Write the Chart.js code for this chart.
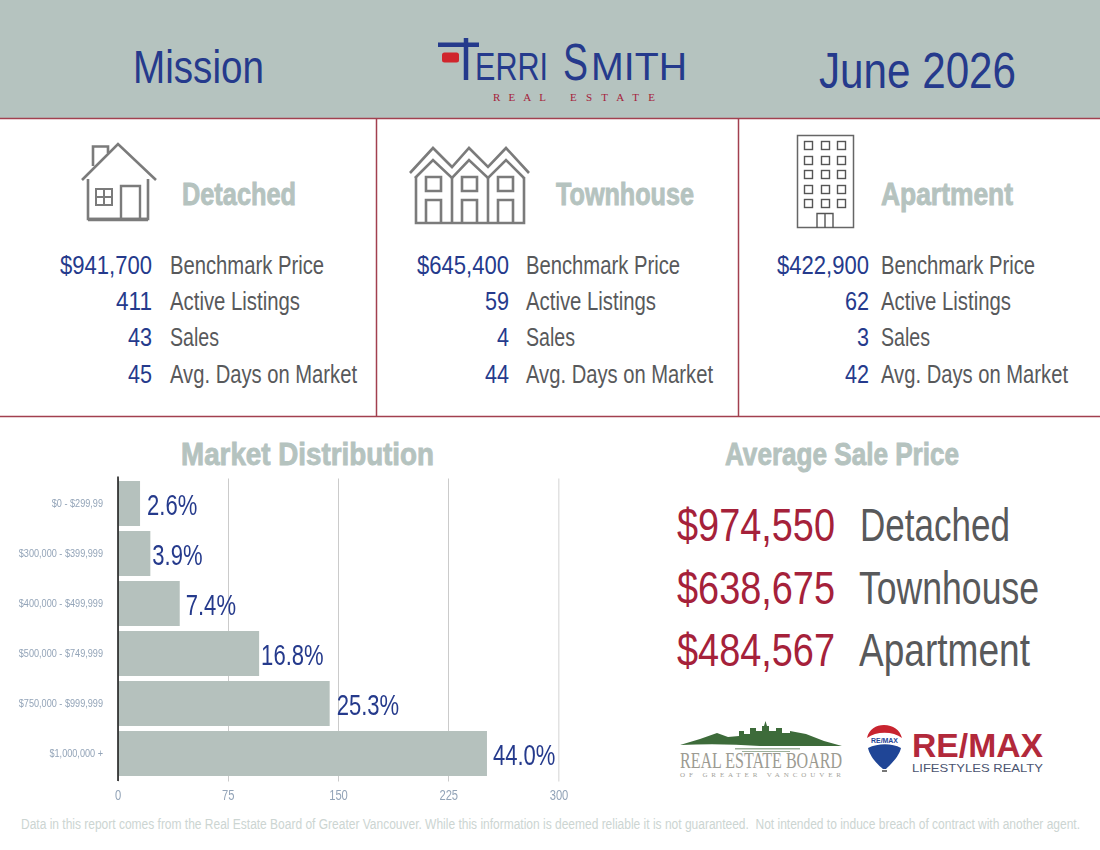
<!DOCTYPE html>
<html>
<head>
<meta charset="utf-8">
<title>Mission June 2026</title>
<script src="https://cdn.jsdelivr.net/npm/chart.js@4"></script>
<style>
  html, body { margin: 0; padding: 0; background: #fff; }
  #page { position: relative; width: 1100px; height: 850px; overflow: hidden; }
  #art { position: absolute; left: 0; top: 0; }
  #art text { white-space: pre; }
  #chartBox { position: absolute; left: 0; top: 430px; width: 614px; height: 385px; }
</style>
</head>
<body>
<div id="page">
  <svg id="art" width="1100" height="850" xmlns="http://www.w3.org/2000/svg"></svg>
  <div id="chartBox"><canvas id="myChart"></canvas></div>
</div>
<script>
var city = "Mission";
var period = "June 2026";
var chartTitle = "Market Distribution";

var priceBands = ["$0 - $299,99", "$300,000 - $399,999", "$400,000 - $499,999", "$500,000 - $749,999", "$750,000 - $999,999", "$1,000,000 +"];
var bandSales = [15, 22, 42, 96, 144, 251];
var bandShare = ["2.6%", "3.9%", "7.4%", "16.8%", "25.3%", "44.0%"];
var salesTicks = [0, 75, 150, 225, 300];

var propertyTypes = ["Detached", "Townhouse", "Apartment"];
var benchmarkPrices = ["$941,700", "$645,400", "$422,900"];
var activeListings = ["411", "59", "62"];
var sales = ["43", "4", "3"];
var daysOnMarket = ["45", "44", "42"];
var statLabels = ["Benchmark Price", "Active Listings", "Sales", "Avg. Days on Market"];
var averagePrices = ["$974,550", "$638,675", "$484,567"];

var footnote = "Data in this report comes from the Real Estate Board of Greater Vancouver. While this information is deemed reliable it is not guaranteed.  Not intended to induce breach of contract with another agent.";

var SANS = "'Liberation Sans', sans-serif";
var SERIF = "'Liberation Serif', serif";
var BLUE = "#253a8c", RED = "#a5213a", SAGE = "#b5c3bf", GREY = "#58595b", ICON = "#7b7b7b", RULE = "#a2404f";

var art = document.getElementById("art");
var NS = "http://www.w3.org/2000/svg";

function el(name, attrs, content) {
  var node = document.createElementNS(NS, name);
  for (var k in attrs) node.setAttribute(k, attrs[k]);
  if (content !== undefined) node.textContent = content;
  art.appendChild(node);
  return node;
}

// x is the anchor, y the baseline; len squeezes the glyphs to the reference width
function text(str, x, y, size, color, len, extra) {
  var attrs = { x: x, y: y, "font-size": size, fill: color, "font-family": SANS, textLength: len, lengthAdjust: "spacingAndGlyphs" };
  for (var k in extra) attrs[k] = extra[k];
  return el("text", attrs, str);
}

// the condensed bold headings of the reference, fattened with a stroke
function heading(str, x, y, len) {
  return text(str, x, y, 31, SAGE, len, { "font-weight": "bold", stroke: SAGE, "stroke-width": 0.9 });
}

function line(d, width, color) {
  el("path", { d: d, fill: "none", stroke: color || ICON, "stroke-width": width || 2 });
}

// header band and rules
el("rect", { x: 0, y: 0, width: 1100, height: 118, fill: SAGE });
line("M0 118.5H1100", 1.5, RULE);
line("M0 416.5H1100", 1.5, RULE);
line("M376.5 119V416", 1.5, RULE);
line("M738.5 119V416", 1.5, RULE);

text(city, 133, 83, 46, BLUE, 131);
text(period, 819, 88, 50, BLUE, 197);

// Terri Smith logo
el("rect", { x: 442, y: 52.5, width: 17, height: 10, rx: 2.5, fill: "#d0262d" });
line("M438 44.8H479", 4.5, BLUE);
line("M466 38V80", 4.5, BLUE);
text("ERRI", 475, 80, 39, BLUE, 73);
text("S", 563, 80, 52, BLUE, 25);
text("MITH", 591, 80, 39, BLUE, 96);
text("REAL", 493, 101, 11, RED, 53, { "font-family": SERIF, lengthAdjust: "spacing" });
text("ESTATE", 570, 101, 11, RED, 85, { "font-family": SERIF, lengthAdjust: "spacing" });

// house icon
line("M82 180L118 144L156 180", 2.6);
line("M93 166V146.5H108V153", 2.6);
line("M88 179V219H148V179", 2.6);
line("M88 219.5H148", 3.4);
line("M96 189H112V205H96ZM104 189V205M96 197H112", 2);
line("M121 219V186H140V219", 2.4);

// townhouse icon
line("M410 173L433 148L452 167L469 148L488 167L506 148L529 173", 2.6);
line("M415 178L433 160L452 178L469 160L488 178L506 160L524 178", 2.6);
line("M416 177V223H524V177M452 178V223M488 178V223", 2.6);
[426, 462, 498].forEach(function (wx) {
  line("M" + wx + " 177h15v14h-15Z", 2.6);
  line("M" + wx + " 223V200h15V223", 2.6);
});

// apartment icon
el("rect", { x: 797.5, y: 135.5, width: 56, height: 92, fill: "none", stroke: "#666", "stroke-width": 1.5 });
[804, 821, 837].forEach(function (wx) {
  [141, 156, 170, 185, 199].forEach(function (wy) {
    el("rect", { x: wx + 0.5, y: wy + 0.5, width: 8, height: 8, fill: "none", stroke: "#555", "stroke-width": 1.4 });
  });
});
line("M817 228V213.5H833V228M825 213.5V228", 1.4, "#555");

// property columns
var headingX = [182, 556, 881], headingLen = [114, 138, 132];
var numberX = [152, 509, 869], labelX = [170, 526, 881];
var rowY = [274, 310, 346, 383];
var labelLen = [154, 130, 49, 187];
propertyTypes.forEach(function (name, i) {
  heading(name, headingX[i], 205, headingLen[i]);
  [benchmarkPrices, activeListings, sales, daysOnMarket].forEach(function (values, r) {
    // 12px per digit, a little less for the "$" and ","
    var len = values[i].length > 3 ? 92 : values[i].length * 12;
    text(values[i], numberX[i], rowY[r], 26, BLUE, len, { "text-anchor": "end" });
    text(statLabels[r], labelX[i], rowY[r], 26, GREY, labelLen[r]);
  });
});

// average sale price
var priceY = [541, 604, 666], priceLabelX = [860, 859, 859], priceLabelLen = [150, 180, 171];
heading("Average Sale Price", 725, 465, 234);
heading(chartTitle, 181, 465, 253);
propertyTypes.forEach(function (name, i) {
  text(averagePrices[i], 677, priceY[i], 46, RED, 158);
  text(name, priceLabelX[i], priceY[i], 46, GREY, priceLabelLen[i]);
});

// Real Estate Board logo
el("path", { d: "M680 745L700 739L717 733L728 737L739 736V731H744V734H750V728H756V731H762V726H764L765.5 721L767 726H769V731H776V728H782V733H790V731L806 734L824 741L842 746H760Q720 743 680 745Z", fill: "#3d6b3a" });
el("path", { d: "M735 748H800V749.5H735ZM742 751H790V752H742Z", fill: "#9db09a" });
text("REAL ESTATE BOARD", 680, 768, 23, "#9c9b92", 162, { "font-family": SERIF });
text("OF GREATER VANCOUVER", 680, 777, 7, "#a3a299", 161, { "font-family": SERIF, lengthAdjust: "spacing" });

// RE/MAX logo
el("path", { d: "M867 738C869 729 876 725 884 725C893 725 900 730 902 738C893 731 876 731 867 738Z", fill: "#c8242f" });
el("path", { d: "M868 748C878 743 892 743 901 748C899 757 890 765 886 769H883C878 765 870 757 868 748Z", fill: "#1f4596" });
el("rect", { x: 882, y: 770, width: 5, height: 2, fill: "#777" });
text("RE/MAX", 871, 743, 7.5, "#1f4596", 27, { "font-weight": "bold" });
text("RE/MAX", 912, 757, 34, "#b2293b", 131, { "font-weight": "bold" });
text("LIFESTYLES REALTY", 912, 772, 11.5, "#4b5470", 131);

text(footnote, 21, 829, 14, "#ccd5d2", 1059);

// no condensed face is installed, so the canvas texts are squeezed by hand
function squeezedText(ctx, str, x, y, factor) {
  ctx.save();
  ctx.translate(x, y);
  ctx.scale(factor, 1);
  ctx.fillText(str, 0, 0);
  ctx.restore();
}

var chartTexts = {
  id: "chartTexts",
  afterDatasetsDraw: function (chart) {
    var ctx = chart.ctx;
    var gaps = [7, 2, 6, 2, 7, 6];   // label gaps follow the reference
    var xAxis = chart.scales.x, yAxis = chart.scales.y;
    ctx.save();

    // axis line runs a little past the plot on both ends
    ctx.strokeStyle = "#111";
    ctx.lineWidth = 1.5;
    ctx.beginPath();
    ctx.moveTo(xAxis.left, chart.chartArea.top - 2);
    ctx.lineTo(xAxis.left, chart.chartArea.bottom + 2.5);
    ctx.stroke();

    ctx.textBaseline = "middle";

    ctx.font = "29px " + SANS;
    ctx.fillStyle = BLUE;
    ctx.textAlign = "left";
    chart.getDatasetMeta(0).data.forEach(function (bar, i) {
      squeezedText(ctx, bandShare[i], bar.x + gaps[i], bar.y + 3, 0.76);
    });

    ctx.font = "11px " + SANS;
    ctx.fillStyle = "#93a4b8";
    ctx.textAlign = "right";
    priceBands.forEach(function (label, i) {
      squeezedText(ctx, label, 103, yAxis.getPixelForValue(i), 0.83);
    });

    ctx.font = "14px " + SANS;
    ctx.textAlign = "center";
    salesTicks.forEach(function (v) {
      squeezedText(ctx, String(v), xAxis.getPixelForValue(v), chart.chartArea.bottom + 18, 0.8);
    });
    ctx.restore();
  }
};

var myChart = new Chart(document.getElementById("myChart"), {
  type: "bar",
  plugins: [chartTexts],
  data: {
    labels: priceBands,
    datasets: [{
      data: bandSales,
      backgroundColor: "#b5c1bd",
      categoryPercentage: 0.9,
      barPercentage: 1
    }]
  },
  options: {
    indexAxis: "y",
    responsive: true,
    maintainAspectRatio: false,
    animation: false,
    layout: { padding: { top: 48.5, right: 55 } },
    plugins: {
      legend: { display: false },
      tooltip: { enabled: false }
    },
    scales: {
      x: {
        min: 0,
        max: 300,
        afterBuildTicks: function (axis) {
          axis.ticks = salesTicks.map(function (v) { return { value: v }; });
        },
        afterFit: function (axis) { axis.height = 36.5; },
        grid: {
          color: function (c) { return c.tick.value === 300 ? "#e2e2e2" : "#cbcbcb"; },
          lineWidth: function (c) { return c.tick.value === 300 ? 1.5 : 1; },
          tickLength: 3
        },
        border: { display: false },
        ticks: { display: false }
      },
      y: {
        afterFit: function (axis) { axis.width = 118; },
        grid: { display: false },
        border: { display: false },
        ticks: { display: false }
      }
    }
  }
});
</script>
</body>
</html>
